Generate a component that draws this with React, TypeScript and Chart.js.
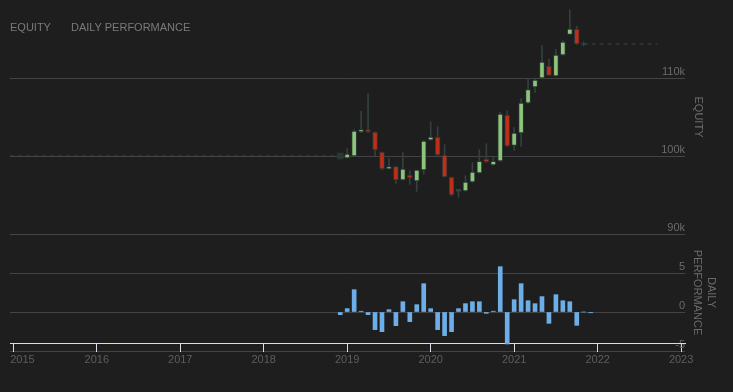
import React, { useEffect, useRef } from 'react';
import { Chart, registerables } from 'chart.js';

Chart.register(...registerables);

// ---- data ----
const candleMonths = [
  '2019-01', '2019-02', '2019-03', '2019-04', '2019-05', '2019-06', '2019-07', '2019-08', '2019-09', '2019-10', '2019-11', '2019-12',
  '2020-01', '2020-02', '2020-03', '2020-04', '2020-05', '2020-06', '2020-07', '2020-08', '2020-09', '2020-10', '2020-11', '2020-12',
  '2021-01', '2021-02', '2021-03', '2021-04', '2021-05', '2021-06', '2021-07', '2021-08', '2021-09', '2021-10',
];
const openK = [
  99.74, 100.0, 103.08, 103.38, 103.08, 100.5, 98.33, 98.63, 96.92, 97.56, 96.79, 98.2,
  102.05, 102.44, 100.13, 97.31, 95.47, 95.51, 96.67, 97.82, 99.62, 98.85, 99.36, 105.26,
  101.37, 102.95, 106.79, 108.85, 110.0, 111.54, 110.26, 112.95, 115.6, 116.28,
];
const highK = [
  100.94, 103.4, 105.73, 107.99, 103.1, 100.5, 99.66, 98.7, 100.43, 98.12, 98.2, 102.0,
  104.4, 103.76, 101.45, 97.31, 95.56, 97.48, 99.15, 100.81, 101.58, 99.96, 105.6, 105.81,
  103.63, 107.35, 109.96, 110.0, 114.15, 112.44, 113.63, 114.79, 118.76, 116.62,
];
const lowK = [
  99.74, 99.95, 103.0, 103.0, 100.04, 98.2, 98.3, 96.5, 96.9, 96.37, 95.47, 97.65,
  102.0, 99.96, 97.3, 94.9, 94.7, 95.5, 96.6, 97.8, 99.2, 98.8, 99.3, 101.2,
  100.73, 101.24, 106.7, 108.16, 110.0, 110.3, 110.2, 112.9, 115.6, 114.3,
];
const closeK = [
  100.26, 103.2, 103.38, 103.08, 100.77, 98.33, 98.63, 96.92, 98.33, 97.18, 98.2, 101.92,
  102.44, 100.13, 97.31, 95.0, 95.47, 96.67, 97.95, 99.32, 99.23, 99.32, 105.38, 101.28,
  102.95, 106.79, 108.5, 109.74, 112.05, 110.34, 112.95, 114.62, 116.28, 114.36,
];

const perfMonths = [
  '2018-12',
  '2019-01', '2019-02', '2019-03', '2019-04', '2019-05', '2019-06', '2019-07', '2019-08', '2019-09', '2019-10', '2019-11', '2019-12',
  '2020-01', '2020-02', '2020-03', '2020-04', '2020-05', '2020-06', '2020-07', '2020-08', '2020-09', '2020-10', '2020-11', '2020-12',
  '2021-01', '2021-02', '2021-03', '2021-04', '2021-05', '2021-06', '2021-07', '2021-08', '2021-09', '2021-10', '2021-11', '2021-12',
];
const perfValues = [
  -0.34,
  0.43, 2.86, 0.1, -0.34, -2.26, -2.52, 0.3, -1.75, 1.32, -1.24, 0.94, 3.63,
  0.43, -2.26, -3.03, -2.52, 0.43, 1.07, 1.32, 1.32, -0.17, 0.1, 5.81, -4.1,
  1.58, 3.63, 1.45, 1.07, 1.97, -1.45, 2.22, 1.45, 1.32, -1.71, 0, -0.1,
];

const leadDates = ['2014-12-17', '2018-12-01'];
const leadValuesK = [100, 100];
const tailDates = ['2021-11-01', '2022-09-20'];
const tailValuesK = [114.36, 114.36];

const xRange = ['2014-12-17', '2023-01-18'];
const yearTicks = [2015, 2016, 2017, 2018, 2019, 2020, 2021, 2022, 2023];
const yearLabels = ['2015', '2016', '2017', '2018', '2019', '2020', '2021', '2022', '2023'];
const equityRange = [90, 120];
const equityTickValues = [90, 100, 110];
const equityTickLabels = ['90k', '100k', '110k'];
const perfRange = [-5, 10];
const perfTickValues = [-5, 0, 5, 10];
const perfTickLabels = ['-5', '0', '5', ''];
const axisAnchor = -4.1;

const seriesNames = ['EQUITY', 'DAILY PERFORMANCE'];

// ---- helpers ----
const toYear = (s: string) => {
  const [y, m, d] = s.split('-').map(Number);
  return y + (m - 1) / 12 + ((d || 1) - 1) / 365;
};

const FONT = '"Liberation Sans", Arial, sans-serif';
const GREEN = '#8cc67a';
const RED = '#bd2f18';
const NEUTRAL = '#34403f';
const BODY_BORDER = '#2b3535';
const WICK = '#34403f';
const PROJ = '#34494b';

export default function App() {
  const ref = useRef<HTMLCanvasElement>(null);

  useEffect(() => {
    const canvas = ref.current;
    if (!canvas) return;
    Chart.defaults.font.family = FONT;

    const xs = candleMonths.map(toYear);
    const bodyColors = closeK.map((c, i) => (c > openK[i] ? GREEN : c < openK[i] ? RED : NEUTRAL));
    const bodyBorders = closeK.map((c, i) => (c === openK[i] ? NEUTRAL : BODY_BORDER));

    const chart = new Chart(canvas, {
      type: 'bar',
      data: {
        datasets: [
          {
            type: 'line',
            label: 'lead',
            yAxisID: 'yEq',
            data: leadDates.map((d, i) => ({ x: toYear(d), y: leadValuesK[i] })),
            borderColor: PROJ,
            borderWidth: 1,
            borderDash: [4, 4],
            pointStyle: 'rect',
            pointRadius: [0, 4],
            pointBackgroundColor: '#2c3838',
            pointBorderColor: '#2c3838',
            order: 0,
          } as any,
          {
            type: 'line',
            label: 'tail',
            yAxisID: 'yEq',
            data: tailDates.map((d, i) => ({ x: toYear(d), y: tailValuesK[i] })),
            borderColor: PROJ,
            borderWidth: 1,
            borderDash: [4, 4],
            pointStyle: 'cross',
            pointRadius: [2.5, 0],
            pointBorderWidth: 1,
            pointBorderColor: '#3c4a4a',
            order: 0,
          } as any,
          {
            type: 'bar',
            label: seriesNames[1],
            yAxisID: 'yPerf',
            data: perfMonths.map((m, i) => ({ x: toYear(m), y: perfValues[i] })),
            backgroundColor: '#6eaee8',
            barThickness: 4,
            grouped: false,
            order: 1,
          } as any,
          {
            type: 'bar',
            label: 'wick',
            yAxisID: 'yEq',
            data: xs.map((x, i) => ({ x, y: [lowK[i], highK[i]] })),
            backgroundColor: WICK,
            barThickness: 1,
            grouped: false,
            order: 3,
          } as any,
          {
            type: 'bar',
            label: seriesNames[0],
            yAxisID: 'yEq',
            data: xs.map((x, i) => ({ x, y: [openK[i], closeK[i]] })),
            backgroundColor: bodyColors,
            borderColor: bodyBorders,
            borderWidth: 1,
            borderSkipped: false,
            barThickness: 5,
            minBarLength: 2,
            grouped: false,
            order: 2,
          } as any,
        ],
      },
      options: {
        responsive: false,
        animation: false,
        devicePixelRatio: 1,
        layout: { autoPadding: false, padding: { left: 10, right: 0, top: 0, bottom: 41 } },
        plugins: { legend: { display: false }, tooltip: { enabled: false } },
        scales: {
          yEq: {
            type: 'linear',
            position: 'right',
            stack: 'panels',
            stackWeight: 2,
            min: equityRange[0],
            max: equityRange[1],
            afterBuildTicks: (s: any) => {
              s.ticks = equityTickValues.map((v) => ({ value: v }));
            },
            afterFit: (s: any) => {
              s.width = 48;
              s.paddingTop = 0;
              s.paddingBottom = 0;
            },
            grid: { color: '#444444', drawTicks: false, lineWidth: 1 },
            border: { display: false },
            ticks: {
              mirror: true,
              padding: 0,
              labelOffset: -6,
              color: '#6b6b6b',
              font: { size: 11, family: FONT },
              callback: (_v: any, i: number) => equityTickLabels[i],
            },
            title: {
              display: true,
              text: seriesNames[0],
              color: '#6b6b6b',
              font: { size: 11, family: FONT, lineHeight: 1.3 },
              padding: { top: 28, bottom: 0 },
            },
          } as any,
          yPerf: {
            type: 'linear',
            position: 'right',
            stack: 'panels',
            stackWeight: 1,
            min: perfRange[0],
            max: perfRange[1],
            afterBuildTicks: (s: any) => {
              s.ticks = perfTickValues.map((v) => ({ value: v }));
            },
            afterFit: (s: any) => {
              s.width = 48;
              s.paddingTop = 0;
              s.paddingBottom = 0;
            },
            grid: { color: '#444444', drawTicks: false, lineWidth: 1 },
            border: { display: false },
            ticks: {
              mirror: true,
              padding: 0,
              labelOffset: -6,
              color: '#6b6b6b',
              font: { size: 11, family: FONT },
              callback: (_v: any, i: number) => perfTickLabels[i],
            },
            title: {
              display: true,
              text: seriesNames[1].split(' '),
              color: '#6b6b6b',
              font: { size: 11, family: FONT, lineHeight: 1.3 },
              padding: { top: 15, bottom: 0 },
            },
          } as any,
          x: {
            type: 'linear',
            position: { yPerf: axisAnchor },
            min: toYear(xRange[0]),
            max: toYear(xRange[1]),
            offset: false,
            afterBuildTicks: (s: any) => {
              s.ticks = yearTicks.map((v) => ({ value: v }));
            },
            afterFit: (s: any) => {
              s.paddingLeft = 0;
              s.paddingRight = 0;
            },
            grid: {
              offset: false,
              drawOnChartArea: false,
              drawTicks: true,
              tickLength: 8,
              color: '#d5dfea',
            },
            border: { display: true, color: '#d5dfea', width: 1 },
            ticks: {
              autoSkip: false,
              maxRotation: 0,
              padding: 1,
              color: '#5e5e5e',
              font: { size: 11, family: FONT },
              callback: (_v: any, i: number) =>
                i === 0 ? '\u2007\u2007\u2007' + yearLabels[i] : yearLabels[i],
            },
          } as any,
        },
      },
    });
    return () => chart.destroy();
  }, []);

  return (
    <div
      style={{
        position: 'fixed',
        left: 0,
        top: 0,
        width: 733,
        height: 392,
        background: '#1e1e1e',
        overflow: 'hidden',
      }}
    >
      <canvas ref={ref} width={733} height={392} style={{ display: 'block', width: 733, height: 392 }} />
      <div
        style={{
          position: 'absolute',
          left: 10,
          top: 21,
          font: `11px ${FONT}`,
          lineHeight: '13px',
          color: '#7a7a7a',
          whiteSpace: 'nowrap',
        }}
      >
        <span>{seriesNames[0]}</span>
        <span style={{ marginLeft: 20 }}>{seriesNames[1]}</span>
      </div>
    </div>
  );
}
